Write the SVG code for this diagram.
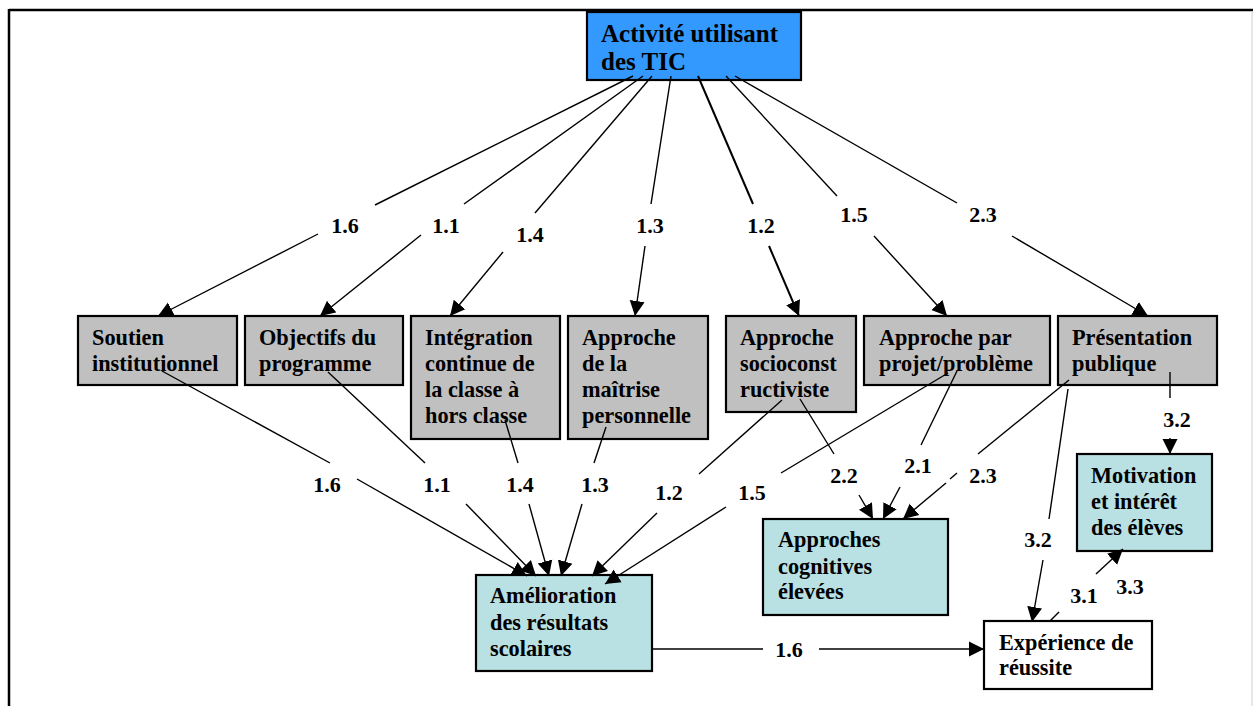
<svg xmlns="http://www.w3.org/2000/svg" width="1253" height="706" viewBox="0 0 1253 706">
<style>
.box{stroke:#000;stroke-width:2.2}
.g{fill:#C0C0C0}
.c{fill:#B9E0E3}
.w{fill:#FFFFFF}
.b{fill:#3399FF}
text{font-family:"Liberation Serif","Times New Roman",serif;font-weight:bold;fill:#000}
.t{font-size:22.3px}
.h{font-size:25px}
.lbl{font-size:22px;text-anchor:middle}
#connectors line{stroke:#000;stroke-width:1.4;fill:none}
#connectors line.a{marker-end:url(#arr)}
</style>
<defs>
<marker id="arr" markerUnits="userSpaceOnUse" markerWidth="16" markerHeight="16" refX="15" refY="8" orient="auto">
<path d="M0,0.5 L15,8 L0,15.5 z" fill="#000"/>
</marker>
</defs>
<rect x="0" y="0" width="1253" height="706" fill="#fff"/>
<g id="frame">
<line x1="9" y1="10" x2="1253" y2="10" stroke="#000" stroke-width="2.5"/>
<line x1="9" y1="9" x2="9" y2="706" stroke="#000" stroke-width="2.5"/>
<line x1="1252" y1="11" x2="1252" y2="706" stroke="#d0d0d0" stroke-width="1"/>
</g>
<g id="n-tic"><rect class="box b" x="587" y="12" width="214" height="68"/><text class="h" x="601" y="42">Activité utilisant</text><text class="h" x="601" y="70">des TIC</text></g>
<g id="n-soutien"><rect class="box g" x="78" y="316" width="159" height="69"/><text class="t" x="92" y="345">Soutien</text><text class="t" x="92" y="371">institutionnel</text></g>
<g id="n-objectifs"><rect class="box g" x="245" y="316" width="158" height="69"/><text class="t" x="259" y="345">Objectifs du</text><text class="t" x="259" y="371">programme</text></g>
<g id="n-integration"><rect class="box g" x="411" y="316" width="149" height="123"/><text class="t" x="425" y="345">Intégration</text><text class="t" x="425" y="371">continue de</text><text class="t" x="425" y="397">la classe à</text><text class="t" x="425" y="423">hors classe</text></g>
<g id="n-maitrise"><rect class="box g" x="568" y="316" width="140" height="123"/><text class="t" x="582" y="345">Approche</text><text class="t" x="582" y="371">de la</text><text class="t" x="582" y="397">maîtrise</text><text class="t" x="582" y="423">personnelle</text></g>
<g id="n-socio"><rect class="box g" x="726" y="316" width="130" height="96"/><text class="t" x="740" y="345">Approche</text><text class="t" x="740" y="371">socioconst</text><text class="t" x="740" y="397">ructiviste</text></g>
<g id="n-projet"><rect class="box g" x="864" y="316" width="186" height="69"/><text class="t" x="879" y="345">Approche par</text><text class="t" x="879" y="371">projet/problème</text></g>
<g id="n-presentation"><rect class="box g" x="1058" y="316" width="159" height="69"/><text class="t" x="1072" y="345">Présentation</text><text class="t" x="1072" y="371">publique</text></g>
<g id="n-amelioration"><rect class="box c" x="476" y="575" width="176" height="96"/><text class="t" x="490" y="603">Amélioration</text><text class="t" x="490" y="630">des résultats</text><text class="t" x="490" y="656">scolaires</text></g>
<g id="n-cognitives"><rect class="box c" x="763" y="519" width="185" height="96"/><text class="t" x="778" y="547">Approches</text><text class="t" x="778" y="574">cognitives</text><text class="t" x="778" y="599">élevées</text></g>
<g id="n-motivation"><rect class="box c" x="1077" y="454" width="135" height="97"/><text class="t" x="1091" y="483">Motivation</text><text class="t" x="1091" y="509">et intérêt</text><text class="t" x="1091" y="535">des élèves</text></g>
<g id="n-experience"><rect class="box w" x="984" y="621" width="168" height="68"/><text class="t" x="999" y="650">Expérience de</text><text class="t" x="999" y="675">réussite</text></g>
<g id="connectors">
<line x1="633" y1="76" x2="375" y2="205"/><line class="a" x1="318" y1="234" x2="158" y2="316"/>
<line x1="643" y1="76" x2="464" y2="204"/><line class="a" x1="421" y1="235" x2="320" y2="316"/>
<line x1="652" y1="76" x2="535" y2="213"/><line class="a" x1="503" y1="252" x2="450" y2="316"/>
<line x1="671" y1="76" x2="651" y2="204"/><line class="a" x1="645" y1="246" x2="635" y2="316"/>
<line x1="698" y1="76" x2="753" y2="204" style="stroke-width:2"/><line class="a" x1="769" y1="246" x2="799" y2="316" style="stroke-width:2"/>
<line x1="726" y1="76" x2="837" y2="196"/><line class="a" x1="874" y1="236" x2="947" y2="316"/>
<line x1="735" y1="76" x2="957" y2="203"/><line class="a" x1="1012" y1="236" x2="1148" y2="316"/>
<line x1="162" y1="371" x2="330" y2="463"/><line class="a" x1="357" y1="479" x2="527" y2="576"/>
<line x1="328" y1="372" x2="425" y2="463"/><line class="a" x1="466" y1="504" x2="536" y2="576"/>
<line x1="505" y1="420" x2="518" y2="463"/><line class="a" x1="529" y1="504" x2="549" y2="576"/>
<line x1="606" y1="427" x2="594" y2="463"/><line class="a" x1="582" y1="504" x2="561" y2="576"/>
<line x1="782" y1="400" x2="699" y2="474"/><line class="a" x1="657" y1="513" x2="592" y2="576"/>
<line x1="948" y1="373" x2="781" y2="473"/><line class="a" x1="726" y1="507" x2="605" y2="584"/>
<line x1="800" y1="399" x2="834" y2="454"/><line class="a" x1="859" y1="495" x2="873" y2="519"/>
<line x1="957" y1="371" x2="921" y2="445"/><line class="a" x1="900" y1="487" x2="883" y2="519"/>
<line x1="1069" y1="380" x2="978" y2="454"/><line x1="957" y1="473" x2="950" y2="479"/><line class="a" x1="946" y1="483" x2="903" y2="519"/>
<line x1="1170" y1="372" x2="1170" y2="398"/><line class="a" x1="1170" y1="438" x2="1170" y2="454"/>
<line x1="1068" y1="389" x2="1049" y2="519"/><line class="a" x1="1043" y1="560" x2="1032" y2="622"/>
<line x1="1050" y1="621" x2="1059" y2="612"/>
<line class="a" x1="1096" y1="574" x2="1123" y2="549"/>
<line x1="652" y1="649" x2="763" y2="649"/><line class="a" x1="819" y1="649" x2="984" y2="649"/>
</g>
<g id="labels">
<text class="lbl" x="345" y="233">1.6</text>
<text class="lbl" x="446" y="233">1.1</text>
<text class="lbl" x="530" y="242">1.4</text>
<text class="lbl" x="650" y="233">1.3</text>
<text class="lbl" x="761" y="233">1.2</text>
<text class="lbl" x="854" y="222">1.5</text>
<text class="lbl" x="983" y="222">2.3</text>
<text class="lbl" x="327" y="492">1.6</text>
<text class="lbl" x="437" y="492">1.1</text>
<text class="lbl" x="520" y="492">1.4</text>
<text class="lbl" x="595" y="492">1.3</text>
<text class="lbl" x="669" y="500">1.2</text>
<text class="lbl" x="752" y="500">1.5</text>
<text class="lbl" x="844" y="483">2.2</text>
<text class="lbl" x="918" y="473">2.1</text>
<text class="lbl" x="983" y="483">2.3</text>
<text class="lbl" x="1177" y="427">3.2</text>
<text class="lbl" x="1038" y="547">3.2</text>
<text class="lbl" x="1084" y="603">3.1</text>
<text class="lbl" x="1130" y="594">3.3</text>
<text class="lbl" x="789" y="657">1.6</text>
</g>
</svg>
